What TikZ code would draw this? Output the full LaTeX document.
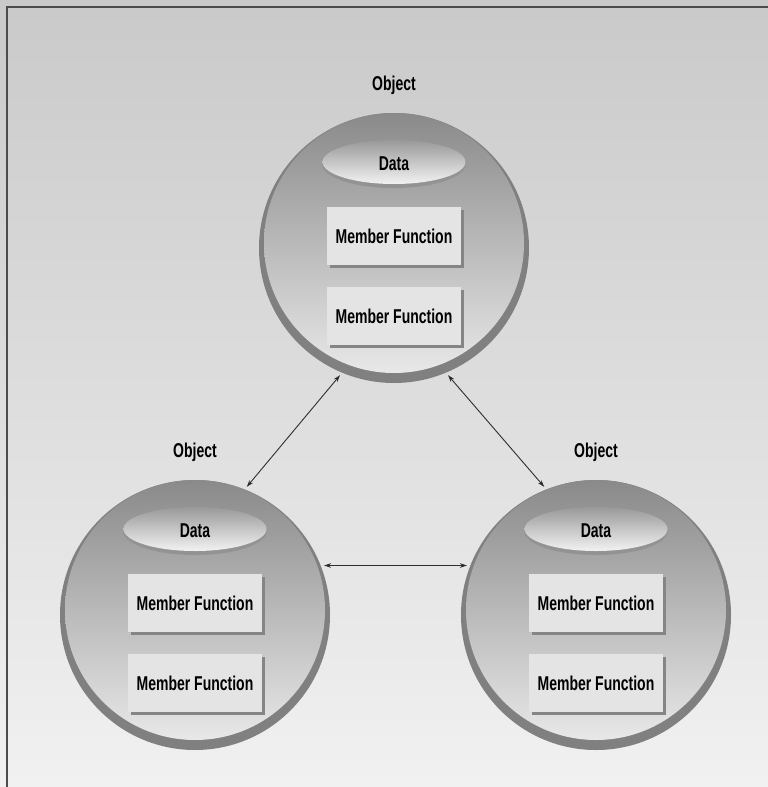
\documentclass[tikz,border=0pt]{standalone}
\usepackage{fontspec}
\setmainfont{Liberation Sans}[FakeStretch=0.7]
\usetikzlibrary{arrows.meta,shadows}
\definecolor{bgtop}{gray}{0.79}
\definecolor{bgbot}{gray}{0.945}
\definecolor{rimc}{gray}{0.50}
\definecolor{discTop}{gray}{0.54}
\definecolor{discMid}{gray}{0.74}
\definecolor{discBot}{gray}{0.91}
\definecolor{elTop}{gray}{0.60}
\definecolor{elBot}{gray}{0.95}
\definecolor{boxc}{gray}{0.895}
\definecolor{shadc}{gray}{0.52}
\definecolor{framec}{gray}{0.30}
\definecolor{arrc}{gray}{0.18}
\tikzset{
  lbl/.style={font=\fontsize{20}{24}\selectfont\bfseries, text=black, inner sep=0pt},
  objcirc/.style={circle, minimum size=276pt, inner sep=0pt},
  mfbox/.style={rectangle, minimum width=134pt, minimum height=58pt, fill=boxc,
    inner sep=0pt, font=\fontsize{20}{24}\selectfont\bfseries,
    general shadow={fill=shadc, shadow xshift=3pt, shadow yshift=-3pt}},
  link/.style={draw=arrc, line width=0.9pt,
    {Stealth[length=7pt,width=4.5pt]}-{Stealth[length=7pt,width=4.5pt]}}
}
\newcommand\objgroup[3]{%
  \node[objcirc] (#1) at (#2,#3) {};
  \fill[rimc] (#2,#3) circle[radius=135];
  \shade[top color=discTop, middle color=discMid, bottom color=discBot]
    (#2,#3-5) circle[radius=130];
  \fill[rimc!85!white] (#2,#3-84) ellipse[x radius=72, y radius=24];
  \shade[top color=elTop, bottom color=elBot]
    (#2,#3-86) ellipse[x radius=71.5, y radius=22];
  \node[lbl] (#1-obj) at (#2,#3-163) {Object};
  \node[lbl] (#1-data) at (#2,#3-84) {Data};
  \node[mfbox] (#1-mf1) at (#2,#3-12) {Member Function};
  \node[mfbox] (#1-mf2) at (#2,#3+68) {Member Function};
}
\begin{document}
\begin{tikzpicture}[x=1pt,y=-1pt]
  \useasboundingbox (0,0) rectangle (768,787);
  \shade[top color=bgtop, bottom color=bgbot] (0,0) rectangle (768,787);
  \draw[framec, line width=1.5pt] (7,787) -- (7,7) -- (768,7);
  \objgroup{top}{394}{248}
  \objgroup{left}{195}{615}
  \objgroup{right}{596}{615}
  \draw[link] (top.247) -- (left.68);
  \draw[link] (top.293) -- (right.112);
  \draw[link] (left.21) -- (right.159);
\end{tikzpicture}
\end{document}
